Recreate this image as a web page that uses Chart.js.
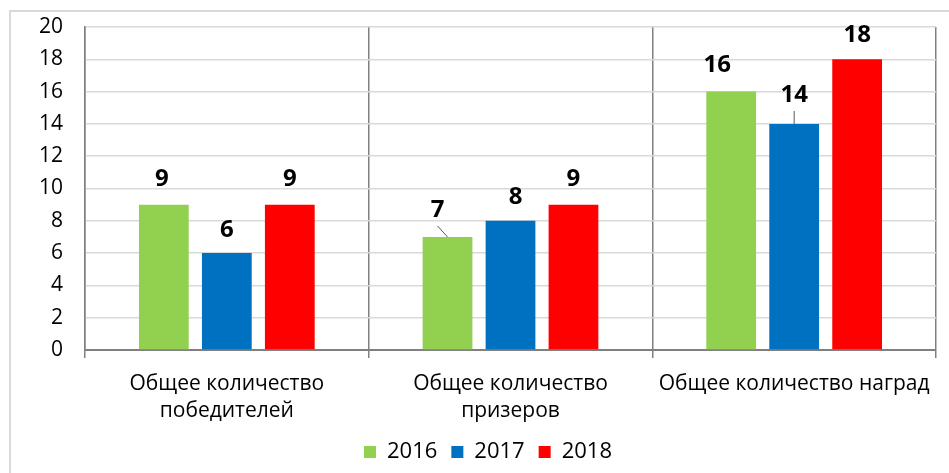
<!DOCTYPE html>
<html>
<head>
<meta charset="utf-8">
<script src="https://cdn.jsdelivr.net/npm/chart.js@4"></script>
<style>
  html, body { margin: 0; padding: 0; background: #fff; }
  #wrap { position: relative; width: 949px; height: 473px; }
  #frame { position: absolute; left: 9px; top: 10px; right: -5px; bottom: -5px;
           border-left: 2px solid #d9d9d9; border-top: 2px solid #d9d9d9; }
  canvas { position: absolute; left: 0; top: 0; }
</style>
</head>
<body>
<div id="wrap">
  <div id="frame"></div>
  <canvas id="myChart" width="949" height="473"></canvas>
</div>
<script>
// Категории и значения
const categories = [
  ['Общее количество', 'победителей'],
  ['Общее количество', 'призеров'],
  'Общее количество наград'
];
const years = ['2016', '2017', '2018'];
const values2016 = [9, 7, 16];
const values2017 = [6, 8, 14];
const values2018 = [9, 9, 18];
const yTicks = [0, 2, 4, 6, 8, 10, 12, 14, 16, 18, 20];

// Сдвиги подписей (только для отрисовки)
const labelShiftX = [[-2, -10, -14], [0, 5, 0], [0, 0, 0]];
const labelLift = [[25, 27, 26], [23, 24, 29], [25, 25, 24]];
const leaderLines = [[false, true, false], [false, false, true], [false, false, false]];

const fontFamily = "'Open Sans', 'Noto Sans', sans-serif";

// Плагин: подписи значений над столбцами
const valueLabels = {
  id: 'valueLabels',
  afterDatasetsDraw(chart) {
    const ctx = chart.ctx;
    ctx.save();
    ctx.font = 'bold 24px ' + fontFamily;
    ctx.textAlign = 'center';
    ctx.textBaseline = 'middle';
    chart.data.datasets.forEach((ds, i) => {
      const meta = chart.getDatasetMeta(i);
      meta.data.forEach((bar, j) => {
        let lx = bar.x + labelShiftX[i][j];
        let ly = bar.y - labelLift[i][j];
        if (leaderLines[i][j]) {
          ctx.strokeStyle = '#595959';
          ctx.lineWidth = 1;
          ctx.beginPath();
          ctx.moveTo(lx, ly + 16);
          ctx.lineTo(bar.x, bar.y);
          ctx.stroke();
        }
        ctx.fillStyle = '#000';
        ctx.fillText(ds.data[j], lx, ly);
      });
    });
    ctx.restore();
  }
};

const config = {
  type: 'bar',
  data: {
    labels: categories,
    datasets: [
      { label: years[0], data: values2016, backgroundColor: '#92d050' },
      { label: years[1], data: values2017, backgroundColor: '#0070c0' },
      { label: years[2], data: values2018, backgroundColor: '#ff0000' }
    ]
  },
  options: {
    responsive: false,
    animation: false,
    categoryPercentage: 0.666,
    barPercentage: 0.79,
    layout: { padding: { top: 27, right: 13, bottom: 0, left: 40 } },
    scales: {
      x: {
        grid: { color: '#808080', lineWidth: 1.5, tickLength: 8, offset: true },
        border: { color: '#808080', width: 2 },
        ticks: {
          color: '#000',
          font: { family: fontFamily, size: 21, lineHeight: 1.3 },
          padding: 12,
          maxRotation: 0,
          autoSkip: false
        },
        afterFit: scale => { scale.height = 77; }
      },
      y: {
        min: 0,
        max: 20,
        afterBuildTicks: scale => { scale.ticks = yTicks.map(v => ({ value: v })); },
        grid: { color: '#d9d9d9', lineWidth: 1.5, drawTicks: false },
        border: { color: '#808080', width: 1.5 },
        ticks: {
          color: '#000',
          font: { family: fontFamily, size: 21 },
          padding: 22
        },
        afterFit: scale => {
          scale.width = 45;
          scale.paddingTop = 0;
          scale.paddingBottom = 0;
        }
      }
    },
    plugins: {
      legend: {
        position: 'bottom',
        labels: {
          color: '#000',
          font: { family: fontFamily, size: 22 },
          boxWidth: 12,
          boxHeight: 12,
          padding: 14
        }
      },
      tooltip: { enabled: false }
    }
  },
  plugins: [valueLabels]
};

var myChart = new Chart(document.getElementById('myChart'), config);
</script>
</body>
</html>
